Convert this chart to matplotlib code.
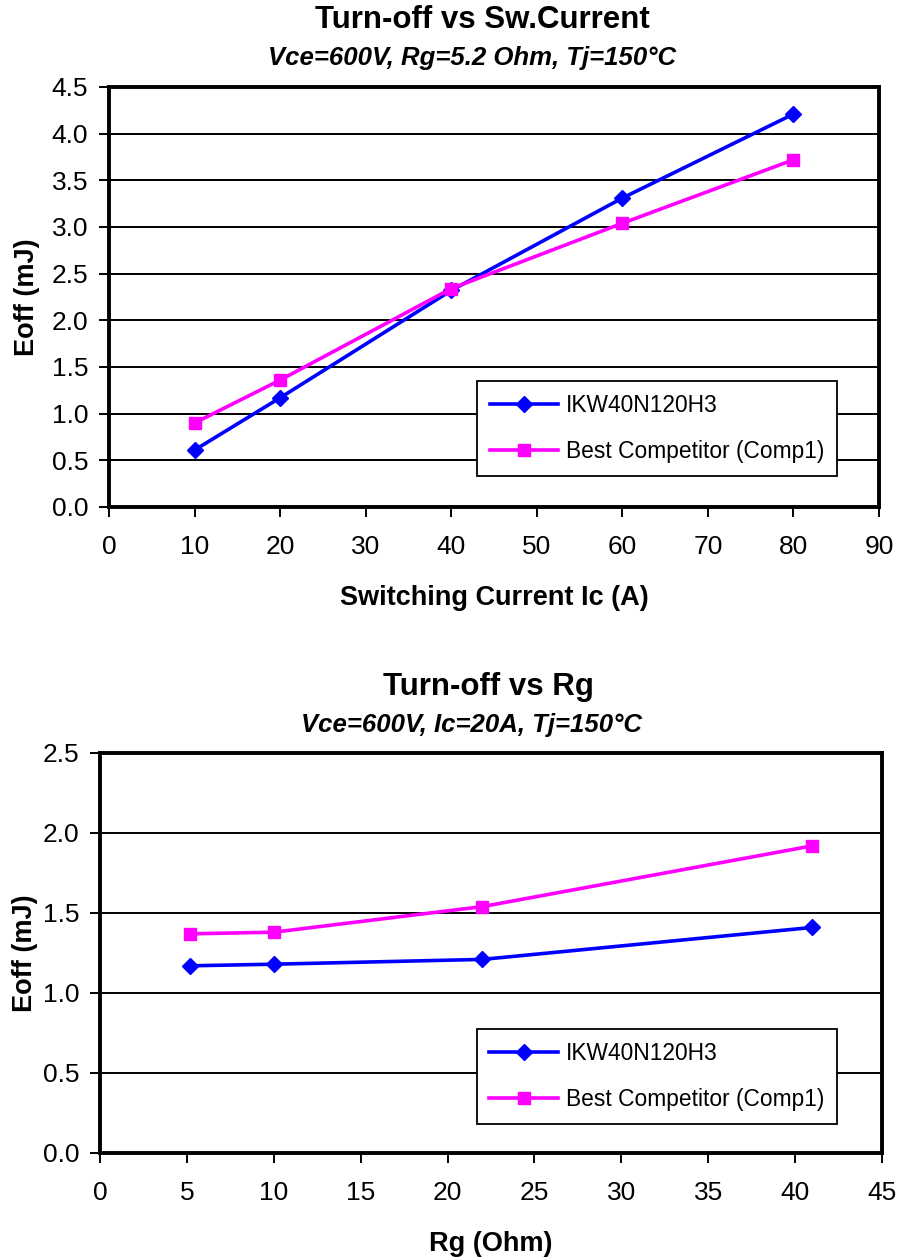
import matplotlib
matplotlib.use("Agg")
import matplotlib.pyplot as plt

plt.rcParams['font.family'] = ['Liberation Sans', 'DejaVu Sans']

# Dados: Eoff vs corrente de chaveamento
ic_a = [10, 20, 40, 60, 80]
eoff_ikw_ic = [0.61, 1.17, 2.32, 3.31, 4.21]
eoff_comp_ic = [0.90, 1.36, 2.34, 3.04, 3.72]

# Dados: Eoff vs Rg
rg_ohm = [5.2, 10, 22, 41]
eoff_ikw_rg = [1.17, 1.18, 1.21, 1.41]
eoff_comp_rg = [1.37, 1.38, 1.54, 1.92]

serie_nomes = ['IKW40N120H3', 'Best Competitor (Comp1)']

W, H = 897, 1258
fig = plt.figure(figsize=(W / 100, H / 100), dpi=100)


def eixo(x0, y0, x1, y1):
    # coordenadas em pixels (topo-esquerda) -> fração da figura
    return fig.add_axes([x0 / W, 1 - y1 / H, (x1 - x0) / W, (y1 - y0) / H])


def desenhar(ax, x, y1, y2, xlim, xticks, ylim, yticks, xlabel, titulo, sub,
             top_px, tit_cx, sub_cx, ylab_x, leg_xy):
    ax.plot(x, y1, color='#0000FF', lw=2.6, marker='D', ms=8, label=serie_nomes[0])
    ax.plot(x, y2, color='#FF00FF', lw=2.6, marker='s', ms=9, label=serie_nomes[1])
    ax.set_xlim(*xlim)
    ax.set_ylim(*ylim)
    ax.set_xticks(xticks)
    ax.set_yticks(yticks)
    ax.set_yticklabels([f'{v:.1f}' for v in yticks])
    ax.yaxis.grid(True, color='black', lw=1.4)
    ax.set_axisbelow(True)
    for s in ax.spines.values():
        s.set_linewidth(2.8)
    ax.tick_params(direction='out', length=7, width=1.4, labelsize=19)
    ax.tick_params(axis='x', pad=13)
    ax.tick_params(axis='y', pad=8)
    ax.set_xlabel(xlabel, fontsize=19.5, fontweight='bold', labelpad=19)
    ax.set_ylabel('Eoff (mJ)', fontsize=19.5, fontweight='bold')
    ax.yaxis.set_label_coords(ylab_x, 0.5)
    leg = ax.legend(loc='upper left', bbox_to_anchor=leg_xy, fontsize=16.4,
                    frameon=True, fancybox=False, edgecolor='black', framealpha=1,
                    borderpad=0.55, labelspacing=1.05, handlelength=3.0,
                    handletextpad=0.35, borderaxespad=0)
    leg.get_frame().set_linewidth(1.3)
    fig.text(tit_cx / W, 1 - top_px / H, titulo, ha='center', va='center',
             fontsize=22.5, fontweight='bold')
    fig.text(sub_cx / W, 1 - (top_px + 38) / H, sub, ha='center', va='center',
             fontsize=18.5, fontweight='bold', style='italic')


ax1 = eixo(109, 87, 879, 507)
desenhar(ax1, ic_a, eoff_ikw_ic, eoff_comp_ic, (0, 90), range(0, 91, 10),
         (0, 4.5), [i * 0.5 for i in range(10)], 'Switching Current Ic (A)',
         'Turn-off vs Sw.Current', 'Vce=600V, Rg=5.2 Ohm, Tj=150°C', 20,
         482, 472, -0.089, (0.478, 0.30))

ax2 = eixo(100, 753, 882, 1153)
desenhar(ax2, rg_ohm, eoff_ikw_rg, eoff_comp_rg, (0, 45), range(0, 46, 5),
         (0, 2.5), [i * 0.5 for i in range(6)], 'Rg (Ohm)',
         'Turn-off vs Rg', 'Vce=600V, Ic=20A, Tj=150°C', 687,
         488, 471, -0.079, (0.482, 0.31))

fig.savefig('out.png', dpi=100)
